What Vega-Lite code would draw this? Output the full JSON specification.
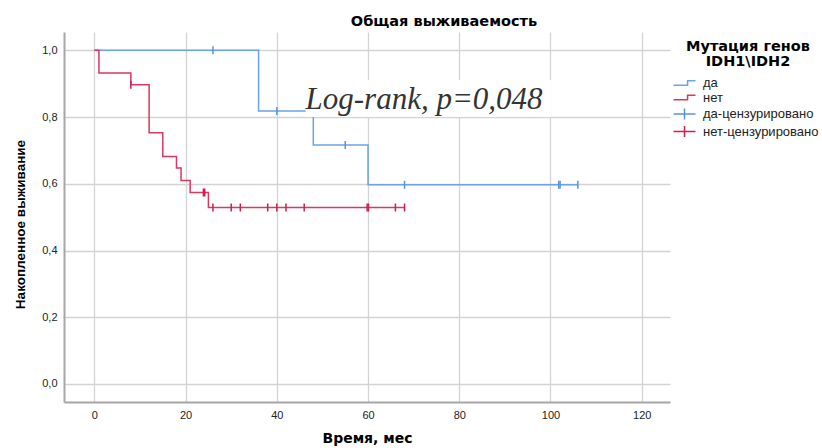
{
  "$schema": "https://vega.github.io/schema/vega-lite/v6.json",
  "width": 606,
  "height": 370,
  "autosize": "none",
  "padding": {"left": 64, "top": 32, "right": 152, "bottom": 46},
  "background": "white",
  "title": {
    "text": "Общая выживаемость",
    "font": "DejaVu Sans",
    "fontSize": 14.5,
    "fontWeight": "bold",
    "color": "#000",
    "anchor": "middle",
    "dx": 77,
    "offset": 3
  },
  "config": {
    "view": {"stroke": null},
    "axis": {
      "labelFont": "Liberation Sans",
      "labelFontSize": 11,
      "labelColor": "#222",
      "titleFont": "DejaVu Sans",
      "titleFontSize": 14,
      "titleFontWeight": "bold",
      "titleColor": "#000",
      "domainColor": "#a6a6a6",
      "domainWidth": 2,
      "gridColor": "#d3d3d3",
      "gridWidth": 1.3,
      "ticks": false
    }
  },
  "datasets": {
    "curves": [
      {"grp": "да", "t": 0, "s": 1.0},
      {"grp": "да", "t": 36, "s": 0.818},
      {"grp": "да", "t": 48, "s": 0.716},
      {"grp": "да", "t": 60, "s": 0.597},
      {"grp": "да", "t": 106, "s": 0.597},
      {"grp": "нет", "t": 0, "s": 1.0},
      {"grp": "нет", "t": 1, "s": 0.932},
      {"grp": "нет", "t": 8, "s": 0.897},
      {"grp": "нет", "t": 12, "s": 0.753},
      {"grp": "нет", "t": 15, "s": 0.682},
      {"grp": "нет", "t": 18, "s": 0.647},
      {"grp": "нет", "t": 19, "s": 0.610},
      {"grp": "нет", "t": 21, "s": 0.574},
      {"grp": "нет", "t": 25, "s": 0.529},
      {"grp": "нет", "t": 68, "s": 0.529}
    ],
    "censored": [
      {"grp": "да-цензурировано", "t": 26, "s": 1.0},
      {"grp": "да-цензурировано", "t": 40, "s": 0.818},
      {"grp": "да-цензурировано", "t": 55, "s": 0.716},
      {"grp": "да-цензурировано", "t": 68, "s": 0.597},
      {"grp": "да-цензурировано", "t": 101.8, "s": 0.597},
      {"grp": "да-цензурировано", "t": 102.1, "s": 0.597},
      {"grp": "да-цензурировано", "t": 106, "s": 0.597},
      {"grp": "нет-цензурировано", "t": 8, "s": 0.897},
      {"grp": "нет-цензурировано", "t": 23.9, "s": 0.574},
      {"grp": "нет-цензурировано", "t": 24.2, "s": 0.574},
      {"grp": "нет-цензурировано", "t": 26, "s": 0.529},
      {"grp": "нет-цензурировано", "t": 30, "s": 0.529},
      {"grp": "нет-цензурировано", "t": 32, "s": 0.529},
      {"grp": "нет-цензурировано", "t": 38, "s": 0.529},
      {"grp": "нет-цензурировано", "t": 40, "s": 0.529},
      {"grp": "нет-цензурировано", "t": 42, "s": 0.529},
      {"grp": "нет-цензурировано", "t": 46, "s": 0.529},
      {"grp": "нет-цензурировано", "t": 59.8, "s": 0.529},
      {"grp": "нет-цензурировано", "t": 60.1, "s": 0.529},
      {"grp": "нет-цензурировано", "t": 66, "s": 0.529},
      {"grp": "нет-цензурировано", "t": 68, "s": 0.529}
    ],
    "box": [
      {"t": 46.3, "t2": 100.2, "s": 0.8, "s2": 0.911}
    ],
    "note": [
      {"t": 46.3, "s": 0.824, "label": "Log-rank, p=0,048"}
    ]
  },
  "layer": [
    {
      "data": {"name": "curves"},
      "mark": {"type": "line", "interpolate": "step-after", "strokeWidth": 1.5},
      "encoding": {
        "x": {
          "field": "t", "type": "quantitative",
          "scale": {"domain": [-6.66, 126.2], "nice": false, "zero": false},
          "axis": {
            "title": "Время, мес",
            "values": [0, 20, 40, 60, 80, 100, 120],
            "format": "d",
            "labelPadding": 7,
            "titleY": 36,
            "titleBaseline": "middle"
          }
        },
        "y": {
          "field": "s", "type": "quantitative",
          "scale": {"domain": [-0.054, 1.055], "nice": false, "zero": false},
          "axis": {
            "title": "Накопленное выживание",
            "values": [0, 0.2, 0.4, 0.6, 0.8, 1.0],
            "labelExpr": "replace(format(datum.value, '.1f'), '.', ',')",
            "labelPadding": 7,
            "titleFont": "Liberation Sans",
            "titleFontSize": 13.5,
            "titleX": -44,
            "titleY": 192,
            "titleAngle": 270,
            "titleAlign": "center",
            "titleBaseline": "middle"
          }
        },
        "color": {
          "field": "grp", "type": "nominal",
          "scale": {
            "domain": ["да", "нет", "да-цензурировано", "нет-цензурировано"],
            "range": ["#6aa3e6", "#d9385f", "#5593e0", "#cf1f4c"]
          },
          "legend": {
            "title": ["Мутация генов", "IDH1\\IDH2"],
            "orient": "none",
            "legendX": 614,
            "legendY": 8,
            "padding": 0,
            "titleFont": "DejaVu Sans",
            "titleFontSize": 14.5,
            "titleFontWeight": "bold",
            "titleColor": "#000",
            "titleAlign": "center",
            "titleAnchor": "middle",
            "titleLineHeight": 15,
            "titlePadding": 7,
            "labelFont": "Liberation Sans",
            "labelFontSize": 13,
            "labelColor": "#222",
            "labelOffset": 12,
            "symbolSize": 121,
            "symbolStrokeWidth": 1.5,
            "rowPadding": 0.5,
            "encoding": {
              "symbols": {
                "shape": {"value": {"expr": "indexof(datum.value, 'цензур') >= 0 ? 'M-2,0L2,0M0,-1L0,1' : 'M-2,0.4L0.56,0.4L0.56,-0.4L2,-0.4'"}},
                "fill": {"value": "transparent"},
                "strokeWidth": {"value": 1.5}
              }
            }
          }
        }
      }
    },
    {
      "data": {"name": "censored"},
      "mark": {"type": "point", "shape": "M0,-1L0,1", "size": 64, "strokeWidth": 1.5, "filled": false, "opacity": 1},
      "encoding": {
        "x": {"field": "t", "type": "quantitative"},
        "y": {"field": "s", "type": "quantitative"},
        "color": {
          "field": "grp", "type": "nominal",
          "legend": {
            "title": ["Мутация генов", "IDH1\\IDH2"],
            "orient": "none",
            "legendX": 614,
            "legendY": 8,
            "padding": 0,
            "titleFont": "DejaVu Sans",
            "titleFontSize": 14.5,
            "titleFontWeight": "bold",
            "titleColor": "#000",
            "titleAlign": "center",
            "titleAnchor": "middle",
            "titleLineHeight": 15,
            "titlePadding": 7,
            "labelFont": "Liberation Sans",
            "labelFontSize": 13,
            "labelColor": "#222",
            "labelOffset": 12,
            "symbolSize": 121,
            "symbolStrokeWidth": 1.5,
            "rowPadding": 0.5,
            "encoding": {
              "symbols": {
                "shape": {"value": {"expr": "indexof(datum.value, 'цензур') >= 0 ? 'M-2,0L2,0M0,-1L0,1' : 'M-2,0.4L0.56,0.4L0.56,-0.4L2,-0.4'"}},
                "fill": {"value": "transparent"},
                "strokeWidth": {"value": 1.5}
              }
            }
          }
        }
      }
    },
    {
      "data": {"name": "box"},
      "mark": {"type": "rect", "fill": "white", "stroke": null},
      "encoding": {
        "x": {"field": "t", "type": "quantitative"},
        "x2": {"field": "t2"},
        "y": {"field": "s", "type": "quantitative"},
        "y2": {"field": "s2"}
      }
    },
    {
      "data": {"name": "note"},
      "mark": {"type": "text", "font": "Liberation Serif", "fontStyle": "italic", "fontSize": 31, "color": "#333", "align": "left", "baseline": "alphabetic"},
      "encoding": {
        "x": {"field": "t", "type": "quantitative"},
        "y": {"field": "s", "type": "quantitative"},
        "text": {"field": "label"}
      }
    }
  ]
}
